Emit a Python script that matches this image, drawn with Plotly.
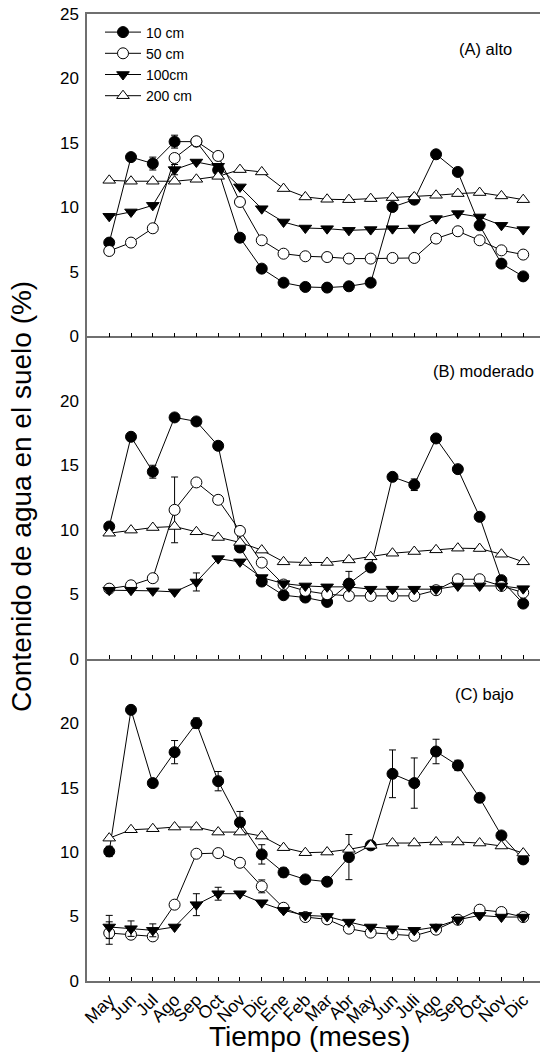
import plotly.graph_objects as go

months = ["May", "Jun", "Jul", "Ago", "Sep", "Oct", "Nov", "Dic", "Ene", "Feb",
          "Mar", "Abr", "May", "Jun", "Juli", "Ago", "Sep", "Oct", "Nov", "Dic"]
depths = ["10 cm", "50 cm", "100cm", "200 cm"]

# (A) alto
a_10 = [7.27, 13.9, 13.4, 15.1, 15.1, 12.9, 7.65, 5.25, 4.16, 3.83, 3.78, 3.88, 4.16, 10.03, 10.6, 14.12, 12.75, 8.61, 5.64, 4.65]
a_50 = [6.62, 7.27, 8.38, 13.83, 15.13, 13.99, 10.42, 7.45, 6.41, 6.21, 6.15, 6.03, 6.03, 6.08, 6.08, 7.58, 8.15, 7.45, 6.67, 6.34]
a_100 = [9.31, 9.65, 10.16, 12.93, 13.52, 13.19, 11.59, 9.90, 8.87, 8.40, 8.35, 8.22, 8.28, 8.35, 8.40, 9.13, 9.52, 9.26, 8.61, 8.28]
a_200 = [12.10, 12.03, 12.03, 12.03, 12.18, 12.41, 12.93, 12.75, 11.46, 10.81, 10.63, 10.60, 10.68, 10.76, 10.81, 10.94, 11.07, 11.15, 10.89, 10.60]
a_10_err = [None, None, 0.5, 0.5, None, None, None, None, None, None, None, None, None, None, None, None, None, None, None, None]
a_50_err = [None, None, 0.3, None, None, None, None, None, None, None, None, None, None, None, None, 0.3, None, None, None, None]
a_100_err = [None, None, None, 0.4, None, None, None, None, None, None, None, None, None, None, None, None, None, None, None, None]
a_200_err = [None] * 20

# (B) moderado
b_10 = [10.25, 17.21, 14.5, 18.71, 18.4, 16.51, 8.62, 5.98, 4.92, 4.74, 4.40, 5.82, 7.07, 14.1, 13.49, 17.08, 14.7, 11.0, 6.09, 4.27]
b_50 = [5.43, 5.69, 6.24, 11.54, 13.67, 12.32, 9.91, 7.45, 5.75, 5.26, 5.0, 4.87, 4.87, 4.87, 4.87, 5.31, 6.16, 6.16, 5.64, 5.12]
b_100 = [5.31, 5.31, 5.26, 5.18, 5.95, 7.76, 7.51, 6.29, 5.82, 5.64, 5.57, 5.57, 5.39, 5.39, 5.39, 5.39, 5.64, 5.64, 5.64, 5.43]
b_200 = [9.73, 9.97, 10.17, 10.25, 9.84, 9.4, 9.01, 8.42, 7.51, 7.46, 7.46, 7.66, 7.9, 8.18, 8.31, 8.44, 8.57, 8.54, 8.1, 7.51]
b_10_err = [None, None, 0.5, None, None, None, None, None, None, None, None, 0.95, None, 0.3, 0.45, None, None, None, None, None]
b_50_err = [None, None, None, 2.55, None, 0.3, None, None, None, None, None, None, None, None, None, None, None, None, None, None]
b_100_err = [None, None, None, None, 0.7, None, None, None, None, None, None, None, None, None, None, None, None, None, None, None]
b_200_err = [None] * 20

# (C) bajo
c_10 = [10.05, 21.03, 15.35, 17.75, 20.0, 15.5, 12.3, 9.82, 8.42, 7.88, 7.70, 9.61, 10.52, 16.07, 15.35, 17.80, 16.72, 14.21, 11.29, 9.43]
c_50 = [3.72, 3.59, 3.46, 5.92, 9.87, 9.92, 9.17, 7.34, 5.68, 4.96, 4.78, 4.06, 3.75, 3.62, 3.51, 3.98, 4.75, 5.53, 5.35, 4.96]
c_100 = [4.19, 4.06, 3.93, 4.19, 5.92, 6.77, 6.77, 6.07, 5.48, 5.09, 5.01, 4.57, 4.19, 4.06, 3.93, 4.19, 4.75, 5.09, 4.96, 4.96]
c_200 = [11.08, 11.73, 11.81, 11.94, 11.94, 11.55, 11.55, 11.24, 10.34, 9.95, 10.0, 10.21, 10.52, 10.70, 10.70, 10.78, 10.78, 10.70, 10.47, 9.92]
c_10_err = [0.4, None, None, 0.9, 0.4, 0.75, 0.85, 0.75, 0.35, 0.3, 0.3, 1.75, 0.2, 1.85, 1.95, 0.95, 0.4, None, None, 0.3]
c_50_err = [0.87, None, None, None, None, None, None, 0.5, None, None, None, None, None, None, None, None, None, None, None, None]
c_100_err = [0.9, 0.6, 0.5, None, 0.85, 0.5, None, None, None, None, None, None, None, None, None, None, None, None, None, None]
c_200_err = [None] * 20

panels = [
    ("(A) alto", [a_10, a_50, a_100, a_200], [a_10_err, a_50_err, a_100_err, a_200_err]),
    ("(B) moderado", [b_10, b_50, b_100, b_200], [b_10_err, b_50_err, b_100_err, b_200_err]),
    ("(C) bajo", [c_10, c_50, c_100, c_200], [c_10_err, c_50_err, c_100_err, c_200_err]),
]

styles = [
    dict(symbol="circle", color="black"),
    dict(symbol="circle", color="white"),
    dict(symbol="triangle-down", color="black"),
    dict(symbol="triangle-up", color="white"),
]

FONT = "Arial, 'Liberation Sans', sans-serif"
AXCOL = "#6f6f6f"
x = list(range(len(months)))

fig = go.Figure()
for p, (label, series, errs) in enumerate(panels):
    xa = "x" if p == 0 else f"x{p+1}"
    ya = "y" if p == 0 else f"y{p+1}"
    for s, (vals, err, st) in enumerate(zip(series, errs, styles)):
        fig.add_trace(go.Scatter(
            x=x, y=vals, xaxis=xa, yaxis=ya, mode="lines+markers",
            name=depths[s], showlegend=(p == 0),
            line=dict(color="black", width=1),
            marker=dict(symbol=st["symbol"], size=11, color=st["color"],
                        line=dict(color="black", width=1)),
            error_y=dict(type="data", array=err, visible=True, color="black",
                         thickness=1, width=3.5),
        ))

H, W = 1053, 540
ML, MR, MT, MB = 87, 0, 14, 72
ph = H - MT - MB

xcommon = dict(range=[-1.02, 19.77], showline=True, linecolor=AXCOL, linewidth=1.5,
               ticks="inside", ticklen=4, tickcolor="black", tickwidth=1,
               tickvals=x, showgrid=False, zeroline=False, automargin=False)
ycommon = dict(range=[0, 25], showline=True, linecolor=AXCOL, linewidth=1.5,
               ticks="", showgrid=False, zeroline=False, automargin=False,
               tickfont=dict(size=17, color="black", family=FONT),
               ticklabelstandoff=3)

layout = dict(
    width=W, height=H,
    margin=dict(l=ML, r=MR, t=MT, b=MB, autoexpand=False),
    plot_bgcolor="white", paper_bgcolor="white",
    font=dict(family=FONT, color="black"),
    xaxis=dict(**xcommon, anchor="y", mirror=True, showticklabels=False),
    xaxis2=dict(**xcommon, anchor="y2", matches="x", showticklabels=False),
    xaxis3=dict(**xcommon, anchor="y3", matches="x", showticklabels=True,
                ticktext=months, tickangle=-45,
                tickfont=dict(size=17.5, color="black", family=FONT)),
    yaxis=dict(**ycommon, domain=[2/3, 1], anchor="x", tickvals=[0, 5, 10, 15, 20, 25]),
    yaxis2=dict(**ycommon, domain=[1/3, 2/3], anchor="x2", tickvals=[0, 5, 10, 15, 20]),
    yaxis3=dict(**ycommon, domain=[0, 1/3], anchor="x3", tickvals=[0, 5, 10, 15, 20]),
    showlegend=True,
    legend=dict(x=(100 - ML) / (W - ML), y=1 - (16.5 - MT) / ph, xanchor="left", yanchor="top",
                bgcolor="rgba(0,0,0,0)", font=dict(size=14, family=FONT, color="black"),
                tracegroupgap=0, itemwidth=36),
)
fig.update_layout(**layout)

def px_x(px):
    return (px - ML) / (W - ML)

def px_y(py):
    return 1 - (py - MT) / ph

label_pos = [(456.7, 48.5), (431.0, 371), (452.5, 694)]
for (label, _, _), (lx, ly) in zip(panels, label_pos):
    fig.add_annotation(text=label, x=px_x(lx), y=px_y(ly), xref="paper", yref="paper",
                       xanchor="left", yanchor="middle", showarrow=False,
                       font=dict(size=16.5, family=FONT, color="black"))

fig.add_annotation(text="Tiempo (meses)", x=px_x(309.5), y=px_y(1036), xref="paper", yref="paper",
                   xanchor="center", yanchor="middle", showarrow=False,
                   font=dict(size=28, family=FONT, color="black"))
fig.add_annotation(text="Contenido de agua en el suelo (%)", x=px_x(21), y=px_y(497),
                   xref="paper", yref="paper", xanchor="center", yanchor="middle",
                   textangle=-90, showarrow=False,
                   font=dict(size=28, family=FONT, color="black"))

fig.write_html("out.html", config={"displayModeBar": False},
               post_script="document.body.style.margin='0';document.body.style.padding='0';")
